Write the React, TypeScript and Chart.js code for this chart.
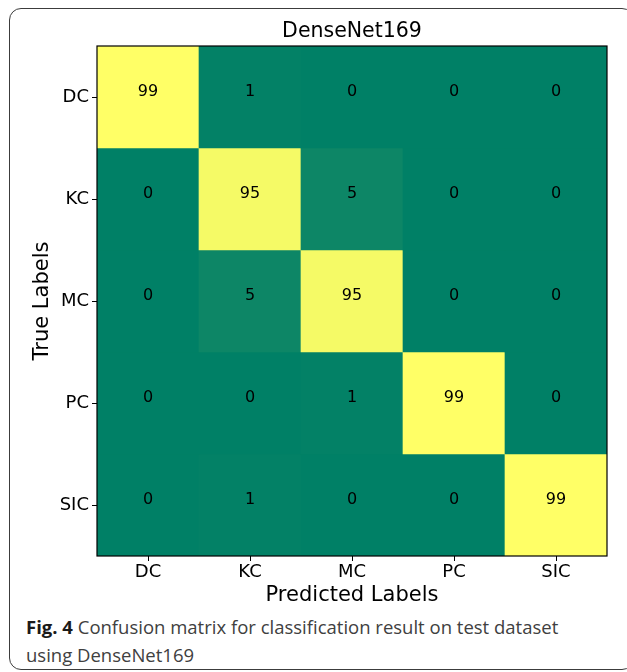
import React, { useEffect, useRef } from "react";
import { Chart, registerables } from "chart.js";

Chart.register(...registerables);

const predictedLabels = ["DC", "KC", "MC", "PC", "SIC"];
const trueLabels = ["DC", "KC", "MC", "PC", "SIC"];
const rowDC = [99, 1, 0, 0, 0];
const rowKC = [0, 95, 5, 0, 0];
const rowMC = [0, 5, 95, 0, 0];
const rowPC = [0, 0, 1, 99, 0];
const rowSIC = [0, 1, 0, 0, 99];
const matrix = [rowDC, rowKC, rowMC, rowPC, rowSIC];
const colorMax = 99;

const chartTitle = "DenseNet169";
const xTitle = "Predicted Labels";
const yTitle = "True Labels";
const captionBold = "Fig. 4";
const captionLine1 = " Confusion matrix for classification result on test dataset";
const captionLine2 = "using DenseNet169";

const FONT = '"DejaVu Sans"';

function summer(v: number): string {
  const t = Math.max(0, Math.min(1, v / colorMax));
  const r = Math.round(255 * t);
  const g = Math.round(255 * (0.5 + 0.5 * t));
  return `rgb(${r},${g},102)`;
}

const cellTextPlugin = {
  id: "cellText",
  afterDatasetsDraw(chart: any) {
    const ctx = chart.ctx;
    ctx.save();
    ctx.font = `16px ${FONT}`;
    ctx.fillStyle = "#000";
    ctx.textAlign = "center";
    ctx.textBaseline = "middle";
    chart.data.datasets.forEach((ds: any, i: number) => {
      const meta = chart.getDatasetMeta(i);
      meta.data.forEach((el: any, j: number) => {
        const p = el.getCenterPoint();
        ctx.fillText(String(matrix[i][j]), p.x, p.y - 5);
      });
    });
    ctx.restore();
  },
};

const boxPlugin = {
  id: "plotBox",
  afterDraw(chart: any) {
    const { left, top, right, bottom } = chart.chartArea;
    const ctx = chart.ctx;
    ctx.save();
    ctx.strokeStyle = "#000";
    ctx.lineWidth = 1.2;
    ctx.strokeRect(left, top, right - left, bottom - top);
    ctx.restore();
  },
};

export default function App() {
  const canvasRef = useRef<HTMLCanvasElement | null>(null);

  useEffect(() => {
    if (!canvasRef.current) return;
    const datasets = matrix.map((row, r) => ({
      label: trueLabels[r],
      data: row.map(() => [r - 0.5, r + 0.5]),
      backgroundColor: row.map(summer),
      borderWidth: 0,
      barPercentage: 1,
      categoryPercentage: 1,
      grouped: false,
    }));
    const chart = new Chart(canvasRef.current, {
      type: "bar",
      data: { labels: predictedLabels, datasets: datasets as any },
      options: {
        responsive: false,
        animation: false,
        devicePixelRatio: 1,
        layout: { padding: { left: 0, right: 20, top: 0, bottom: 0 } },
        plugins: {
          legend: { display: false },
          tooltip: { enabled: false },
          title: {
            display: true,
            text: chartTitle,
            fullSize: false,
            color: "#000",
            font: { family: FONT, size: 20.5, weight: "normal" },
            padding: { top: 19.7, bottom: 1.7 },
          },
        },
        scales: {
          x: {
            type: "category",
            offset: true,
            grid: { offset: false, drawOnChartArea: false, drawTicks: true, tickLength: 5, color: "#000" },
            border: { display: false },
            ticks: { color: "#000", font: { family: FONT, size: 18 }, padding: 1, maxRotation: 0, autoSkip: false },
            title: {
              display: true,
              text: xTitle,
              color: "#000",
              font: { family: FONT, size: 21 },
              padding: { top: 0, bottom: 4 },
            },
            afterFit: (s: any) => {
              s.height = 56;
              s.paddingLeft = 0;
              s.paddingRight = 0;
            },
          },
          y: {
            type: "linear",
            reverse: true,
            min: -0.5,
            max: 4.5,
            afterBuildTicks: (s: any) => {
              s.ticks = trueLabels.map((_, i) => ({ value: i }));
            },
            grid: { drawOnChartArea: false, drawTicks: true, tickLength: 5, color: "#000" },
            border: { display: false },
            ticks: {
              color: "#000",
              font: { family: FONT, size: 18 },
              padding: 3,
              autoSkip: false,
              callback: (v: any) => trueLabels[Math.round(Number(v))] ?? "",
            },
            title: {
              display: true,
              text: yTitle,
              color: "#000",
              font: { family: FONT, size: 21 },
              padding: { top: 30, bottom: 0 },
            },
            afterFit: (s: any) => {
              s.width = 97;
              s.paddingTop = 0;
              s.paddingBottom = 0;
            },
          },
        },
      },
      plugins: [cellTextPlugin, boxPlugin],
    });
    return () => chart.destroy();
  }, []);

  return (
    <div
      style={{
        position: "fixed",
        left: 0,
        top: 0,
        width: 627,
        height: 672,
        overflow: "hidden",
        background: "#fff",
      }}
    >
      <div
        style={{
          position: "absolute",
          left: 9,
          top: 8,
          width: 625,
          height: 662,
          boxSizing: "border-box",
          border: "1.5px solid #3c3c3c",
          borderRadius: 12,
        }}
      />
      <canvas
        ref={canvasRef}
        width={627}
        height={612}
        style={{ position: "absolute", left: 0, top: 0, width: 627, height: 612 }}
      />
      <div
        style={{
          position: "absolute",
          left: 26,
          top: 613,
          fontFamily: '"Open Sans"',
          fontSize: 18.5,
          lineHeight: "28px",
          color: "#404040",
          whiteSpace: "nowrap",
        }}
      >
        <div>
          <b style={{ color: "#1a1a1a" }}>{captionBold}</b>
          {captionLine1}
        </div>
        <div>{captionLine2}</div>
      </div>
    </div>
  );
}
